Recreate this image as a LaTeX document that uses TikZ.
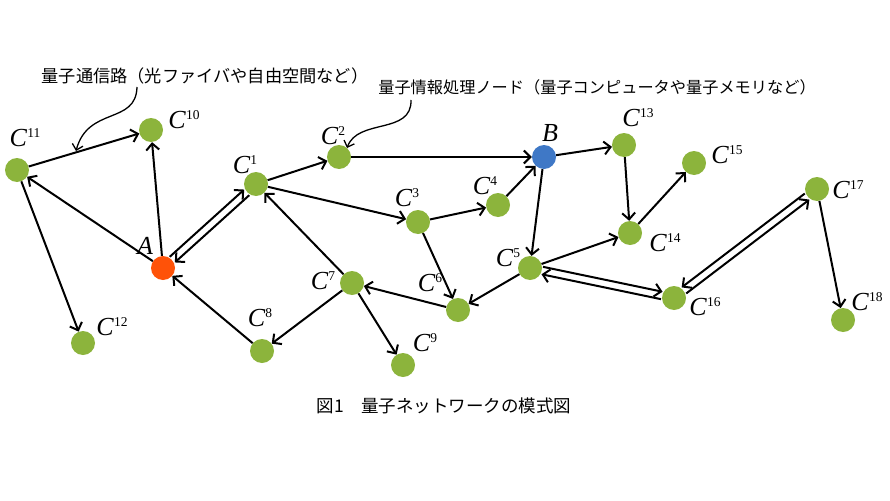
\documentclass[tikz,border=0pt]{standalone}
\usepackage{fontspec}
\setmainfont{Liberation Serif}
\newfontfamily\jpfont{Noto Sans CJK JP}
\usetikzlibrary{arrows.meta,calc}
\definecolor{ballg}{HTML}{8CB43C}
\definecolor{ballA}{HTML}{FF5208}
\definecolor{ballB}{HTML}{3F78C6}
\newcommand\CC[1]{\textit{C}\raisebox{9pt}{\fontsize{13.5}{13.5}\selectfont #1}}
\newcommand\dedge[3]{%
  \draw[arr] ($(#1)!12.5pt!(#2)!3.8pt!#3:(#2)$) -- ($(#2)!12.5pt!(#1)!3.8pt!-#3:(#1)$);
  \draw[arr] ($(#2)!12.5pt!(#1)!3.8pt!#3:(#1)$) -- ($(#1)!12.5pt!(#2)!3.8pt!-#3:(#2)$);}
\begin{document}
\begin{tikzpicture}[x=1pt,y=-1pt,
  ball/.style={circle,fill=ballg,minimum size=24pt,inner sep=0pt},
  lab/.style={font=\fontsize{26}{26}\selectfont, inner sep=0pt},
  jp/.style={font=\jpfont\fontsize{#1}{#1}\selectfont, inner sep=0pt},
  arr/.style={-{Straight Barb[length=6.5pt,width=13pt]}, line width=2pt},
  note/.style={-{Straight Barb[length=5.5pt,width=11pt]}, line width=1.3pt},
]
\useasboundingbox (0,0) rectangle (890,500);
% nodes
\node[ball] (C11) at (17,170) {};
\node[ball] (C10) at (151,130) {};
\node[ball,fill=ballA] (A) at (163,268) {};
\node[ball] (C12) at (83,343) {};
\node[ball] (C1) at (256,184) {};
\node[ball] (C2) at (339,157) {};
\node[ball,fill=ballB] (B) at (544,157) {};
\node[ball] (C3) at (418,222) {};
\node[ball] (C4) at (498,205) {};
\node[ball] (C13) at (624,145) {};
\node[ball] (C15) at (694,163) {};
\node[ball] (C14) at (630,233) {};
\node[ball] (C5) at (530,268) {};
\node[ball] (C6) at (458,310) {};
\node[ball] (C7) at (352,283) {};
\node[ball] (C8) at (262,351) {};
\node[ball] (C9) at (403,365) {};
\node[ball] (C16) at (674,298) {};
\node[ball] (C17) at (817,189) {};
\node[ball] (C18) at (843,320) {};
% labels
\node[lab] (L11) at (25,138) {\CC{11}};
\node[lab] (L10) at (184,120) {\CC{10}};
\node[lab] (LA) at (145,246) {\textit{A}};
\node[lab] (L12) at (112,327) {\CC{12}};
\node[lab] (L1) at (245,165) {\CC{1}};
\node[lab] (L2) at (333,136) {\CC{2}};
\node[lab] (LB) at (550,133) {\textit{B}};
\node[lab] (L13) at (638,118) {\CC{13}};
\node[lab] (L3) at (407,198) {\CC{3}};
\node[lab] (L4) at (485,186) {\CC{4}};
\node[lab] (L15) at (727,155) {\CC{15}};
\node[lab] (L14) at (665,243) {\CC{14}};
\node[lab] (L5) at (508,258) {\CC{5}};
\node[lab] (L6) at (430,283) {\CC{6}};
\node[lab] (L7) at (323,281) {\CC{7}};
\node[lab] (L8) at (260,318) {\CC{8}};
\node[lab] (L9) at (425,343) {\CC{9}};
\node[lab] (L16) at (705,307) {\CC{16}};
\node[lab] (L17) at (848,190) {\CC{17}};
\node[lab] (L18) at (867,302) {\CC{18}};
% edges
\draw[arr] (C11) -- (C10);
\draw[arr] (A) -- (C10);
\draw[arr] (A) -- (C11);
\draw[arr] (C11) -- (C12);
\dedge{A}{C1}{90}
\draw[arr] (C1) -- (C2);
\draw[arr] (C1) -- (C3);
\draw[arr] (C2) -- (B);
\draw[arr] (C3) -- (C4);
\draw[arr] (C4) -- (B);
\draw[arr] (C3) -- (C6);
\draw[arr] (B) -- (C13);
\draw[arr] (B) -- (C5);
\draw[arr] (C13) -- (C14);
\draw[arr] (C14) -- (C15);
\draw[arr] (C5) -- (C14);
\draw[arr] (C5) -- (C6);
\draw[arr] (C6) -- (C7);
\draw[arr] (C7) -- (C1);
\draw[arr] (C7) -- (C8);
\draw[arr] (C7) -- (C9);
\draw[arr] (C8) -- (A);
\dedge{C5}{C16}{90}
\dedge{C16}{C17}{-90}
\draw[arr] (C17) -- (C18);
% annotations
\node[jp=17.2] (T1) at (205,76) {量子通信路（光ファイバや自由空間など）};
\node[jp=16.2] (T2) at (597,87) {量子情報処理ノード（量子コンピュータや量子メモリなど）};
\coordinate (s1) at (137,87);
\coordinate (e1) at (76,151);
\coordinate (s2) at (411,100);
\coordinate (e2) at (347,148);
\draw[note] (s1) .. controls (136,125) and (88,106) .. (e1);
\draw[note] (s2) .. controls (412,135) and (358,118) .. (e2);
\node[jp=17.5] (cap) at (444,406) {図1　量子ネットワークの模式図};
\end{tikzpicture}
\end{document}
